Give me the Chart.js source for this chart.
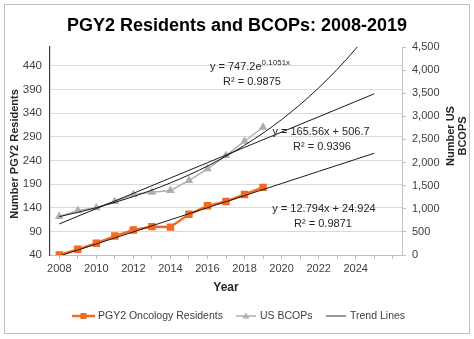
<!DOCTYPE html>
<html>
<head>
<meta charset="utf-8">
<script src="https://cdn.jsdelivr.net/npm/chart.js@4"></script>
<style>
  html, body { margin: 0; padding: 0; background: #fff; }
  #wrap { width: 474px; height: 339px; position: relative; }
</style>
</head>
<body>
<div id="wrap"><canvas id="c" width="474" height="339"></canvas></div>
<script>
// ---- data ----
const years = [2008, 2009, 2010, 2011, 2012, 2013, 2014, 2015, 2016, 2017, 2018, 2019];
const pgy2Residents = [40, 52, 65, 80, 93, 100, 99, 126, 144, 153, 168, 183];
const usBcops = [833, 963, 1021, 1157, 1309, 1358, 1395, 1611, 1864, 2152, 2461, 2764];

// tick labels
const leftTicks = [40, 90, 140, 190, 240, 290, 340, 390, 440];
const rightTicks = [0, 500, 1000, 1500, 2000, 2500, 3000, 3500, 4000, 4500];
const xTickYears = [2008,2009,2010,2011,2012,2013,2014,2015,2016,2017,2018,2019,2020,2021,2022,2023,2024,2025,2026];
const xLabelYears = [2008, 2010, 2012, 2014, 2016, 2018, 2020, 2022, 2024];

// trend lines (coefficients shown in the chart; x = 1 for 2008), forecast to 2025
const trendYears = [2008,2009,2010,2011,2012,2013,2014,2015,2016,2017,2018,2019,2020,2021,2022,2023,2024,2025];
const expBcop = { a: 747.2, b: 0.1051, label: 'y = 747.2e', sup: '0.1051x', r2: 'R² = 0.9875' };
const linBcop = { m: 165.56, c: 506.7, label: 'y = 165.56x + 506.7', r2: 'R² = 0.9396' };
const linRes  = { m: 12.794, c: 24.924, label: 'y = 12.794x + 24.924', r2: 'R² = 0.9871' };

const ORANGE = '#F26A22';
const GRAY = '#A9B1B3';
const FONT = '"Liberation Sans", Arial, sans-serif';
const TXT = '#404040';

const pts = (xs, ys) => xs.map((x, i) => ({ x: x, y: ys[i] }));
const trendPts = (fn) => trendYears.map((yr, i) => ({ x: yr, y: fn(i + 1) }));

const overlay = {
  id: 'overlay',
  beforeDraw(chart) {
    const ctx = chart.ctx;
    ctx.save();
    ctx.fillStyle = '#fff';
    ctx.fillRect(0, 0, chart.width, chart.height);
    ctx.strokeStyle = '#BFBFBF';
    ctx.lineWidth = 1;
    ctx.strokeRect(4.5, 4.5, 465, 329);
    ctx.restore();
  },
  afterDraw(chart) {
    const ctx = chart.ctx;
    const ca = chart.chartArea;
    ctx.save();
    ctx.textBaseline = 'middle';
    // title
    ctx.fillStyle = '#000';
    ctx.textAlign = 'center';
    ctx.font = 'bold 18px ' + FONT;
    ctx.fillText('PGY2 Residents and BCOPs: 2008-2019', 237, 26);
    // x title
    ctx.fillStyle = '#262626';
    ctx.font = 'bold 12px ' + FONT;
    ctx.fillText('Year', (ca.left + ca.right) / 2, 288);
    // left y title
    ctx.font = 'bold 11px ' + FONT;
    ctx.save();
    ctx.translate(15, 154);
    ctx.rotate(-Math.PI / 2);
    ctx.fillText('Number PGY2 Residents', 0, 0);
    ctx.restore();
    // right y title
    ctx.save();
    ctx.translate(457, 136);
    ctx.rotate(-Math.PI / 2);
    ctx.fillText('Number US', 0, -6);
    ctx.fillText('BCOPS', 0, 6);
    ctx.restore();

    // trend equations
    ctx.fillStyle = '#262626';
    ctx.font = '11px ' + FONT;
    ctx.textAlign = 'left';
    const base = expBcop.label;
    const bw = ctx.measureText(base).width;
    ctx.font = '8px ' + FONT;
    const sw = ctx.measureText(expBcop.sup).width;
    const ex = 250 - (bw + sw) / 2;
    ctx.font = '11px ' + FONT;
    ctx.fillText(base, ex, 67);
    ctx.font = '8px ' + FONT;
    ctx.fillText(expBcop.sup, ex + bw, 63);
    ctx.font = '11px ' + FONT;
    ctx.textAlign = 'center';
    ctx.fillText(expBcop.r2, 252, 82);
    ctx.fillText(linBcop.label, 321, 132);
    ctx.fillText(linBcop.r2, 322, 147);
    ctx.fillText(linRes.label, 324, 209);
    ctx.fillText(linRes.r2, 323, 224);

    // legend
    const ly = 316;
    ctx.lineWidth = 2.5;
    ctx.strokeStyle = ORANGE;
    ctx.beginPath(); ctx.moveTo(72, ly); ctx.lineTo(95, ly); ctx.stroke();
    ctx.fillStyle = ORANGE;
    ctx.fillRect(80.5, ly - 3, 6, 6);
    ctx.lineWidth = 1.5;
    ctx.strokeStyle = GRAY;
    ctx.beginPath(); ctx.moveTo(236, ly); ctx.lineTo(256, ly); ctx.stroke();
    ctx.fillStyle = GRAY;
    ctx.beginPath(); ctx.moveTo(246, ly - 3.5); ctx.lineTo(249.5, ly + 2.5); ctx.lineTo(242.5, ly + 2.5); ctx.closePath(); ctx.fill();
    ctx.lineWidth = 1;
    ctx.strokeStyle = '#333';
    ctx.beginPath(); ctx.moveTo(326, ly); ctx.lineTo(346, ly); ctx.stroke();
    ctx.fillStyle = TXT;
    ctx.textAlign = 'left';
    ctx.font = '10.5px ' + FONT;
    ctx.fillText('PGY2 Oncology Residents', 98, ly);
    ctx.fillText('US BCOPs', 260, ly);
    ctx.fillText('Trend Lines', 350, ly);
    ctx.restore();
  }
};

new Chart(document.getElementById('c'), {
  type: 'line',
  data: {
    datasets: [
      {
        label: 'Trend exp', data: trendPts(x => expBcop.a * Math.exp(expBcop.b * x)),
        yAxisID: 'y1', borderColor: '#1a1a1a', borderWidth: 1, pointRadius: 0,
        cubicInterpolationMode: 'monotone', order: 0
      },
      {
        label: 'Trend lin BCOP', data: trendPts(x => linBcop.m * x + linBcop.c),
        yAxisID: 'y1', borderColor: '#1a1a1a', borderWidth: 1, pointRadius: 0, order: 0
      },
      {
        label: 'Trend lin Res', data: trendPts(x => linRes.m * x + linRes.c),
        yAxisID: 'y', borderColor: '#1a1a1a', borderWidth: 1, pointRadius: 0, order: 0
      },
      {
        label: 'US BCOPs', data: pts(years, usBcops), yAxisID: 'y1',
        borderColor: GRAY, backgroundColor: GRAY, borderWidth: 1.5,
        pointStyle: 'triangle', pointRadius: 3.5, order: 2
      },
      {
        label: 'PGY2 Oncology Residents', data: pts(years, pgy2Residents), yAxisID: 'y',
        borderColor: ORANGE, backgroundColor: ORANGE, borderWidth: 2.5,
        pointStyle: 'rect', pointRadius: 3.5, order: 1
      }
    ]
  },
  options: {
    responsive: false,
    animation: false,
    events: [],
    layout: { padding: { top: 47, left: 0, right: 0, bottom: 0 } },
    plugins: { legend: { display: false }, title: { display: false }, tooltip: { enabled: false } },
    scales: {
      x: {
        type: 'linear', min: 2007.5, max: 2026.5,
        afterBuildTicks: s => { s.ticks = xTickYears.map(v => ({ value: v })); },
        afterFit: s => { s.height = 84; },
        ticks: {
          autoSkip: false, maxRotation: 0, padding: 3, color: TXT,
          font: { family: FONT, size: 11 },
          callback: v => xLabelYears.includes(v) ? String(v) : ''
        },
        grid: { drawOnChartArea: false, drawTicks: true, tickLength: 4, color: '#BFBFBF' },
        border: { color: '#BFBFBF' }
      },
      y: {
        position: 'left', min: 40, max: 480,
        afterBuildTicks: s => { s.ticks = leftTicks.map(v => ({ value: v })); },
        afterFit: s => { s.width = 50; },
        ticks: { padding: 8, color: TXT, font: { family: FONT, size: 11.5 } },
        grid: { color: '#D9D9D9', drawTicks: false },
        border: { color: '#404040', width: 1.2 }
      },
      y1: {
        position: 'right', min: 0, max: 4500,
        afterBuildTicks: s => { s.ticks = rightTicks.map(v => ({ value: v })); },
        afterFit: s => { s.width = 72; },
        ticks: {
          padding: 6, color: TXT, font: { family: FONT, size: 11 },
          callback: v => v.toLocaleString('en-US')
        },
        grid: { drawOnChartArea: false, drawTicks: true, tickLength: 4, color: '#BFBFBF' },
        border: { color: '#BFBFBF' }
      }
    }
  },
  plugins: [overlay]
});
</script>
</body>
</html>
